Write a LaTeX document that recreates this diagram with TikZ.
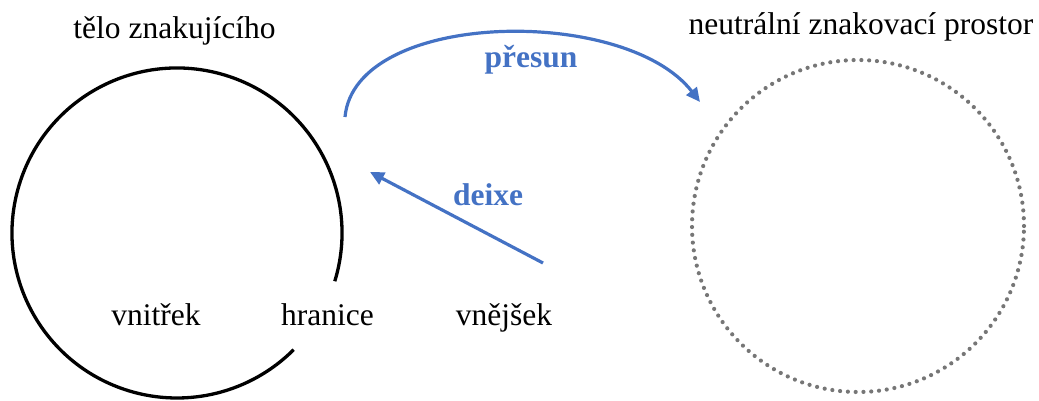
\documentclass[tikz,border=0pt]{standalone}
\usepackage{fontspec}
\setmainfont{Liberation Serif}
\usetikzlibrary{arrows.meta}
\definecolor{signblue}{RGB}{68,114,196}
\definecolor{dotgray}{RGB}{118,118,118}
\tikzset{
  lbl/.style={anchor=base, inner sep=0pt, font=\fontsize{31.5}{37}\selectfont, text=black},
  bluelbl/.style={lbl, font=\fontsize{31.5}{37}\selectfont\bfseries, text=signblue},
  body/.style={draw=black, line width=3.3pt},
  space/.style={draw=dotgray, line width=4.2pt, line cap=round, dash pattern=on 0pt off 7.8pt},
  move/.style={draw=signblue, line width=3.2pt, -{Triangle[length=14pt,width=13pt]}}
}
\begin{document}
\begin{tikzpicture}[x=1pt,y=1pt]
  \path[use as bounding box] (0,0) rectangle (1039,400);

  % signer's body: circle open at the lower right
  \coordinate (bodyc) at (177,167);
  \draw[body] (bodyc) ++(-17:165) arc[start angle=-17, end angle=315, radius=165];

  % neutral signing space
  \coordinate (spacec) at (858,174);
  \draw[space] (spacec) circle[radius=166];

  % labels
  \node[lbl] (telo) at (174.5,361) {tělo znakujícího};
  \node[lbl] (prostor) at (861,365) {neutrální znakovací prostor};
  \node[lbl] (vnitrek) at (156,75) {vnitřek};
  \node[lbl] (hranice) at (327.5,75) {hranice};
  \node[lbl] (vnejsek) at (504,75) {vnějšek};
  \node[bluelbl] (presun) at (531,332) {přesun};
  \node[bluelbl] (deixe) at (488,195) {deixe};

  % arrows
  \coordinate (movefrom) at (345,283);
  \coordinate (moveto) at (700,298);
  \draw[move] (movefrom) .. controls (355,390) and (625,395) .. (moveto);

  \coordinate (pointfrom) at (543,137);
  \coordinate (pointto) at (370,228);
  \draw[move] (pointfrom) -- (pointto);
\end{tikzpicture}
\end{document}
